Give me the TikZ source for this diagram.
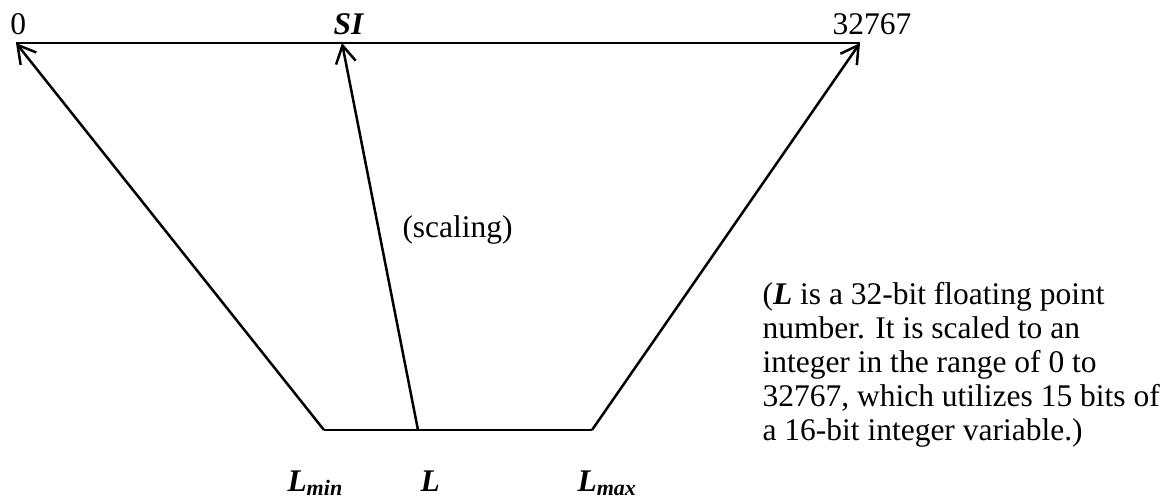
\documentclass[tikz,border=0pt]{standalone}
\usepackage{fontspec}
\setmainfont{Liberation Serif}
\usetikzlibrary{arrows.meta}

\tikzset{
    scaleline/.style={line width=1pt, -{Straight Barb[length=7pt,width=8pt]}},
    lbl/.style={inner sep=0pt, anchor=base west}
}

\begin{document}
\begin{tikzpicture}[x=0.4pt, y=-0.4pt, font=\fontsize{12.6}{13.6}\selectfont]
\useasboundingbox (0,0) rectangle (1172,499);

% SI range on top, L range below
\coordinate (sizero) at (16,43);
\coordinate (sival)  at (342,43);
\coordinate (simax)  at (860,43);
\coordinate (lmin)   at (324,430);
\coordinate (lval)   at (418,430);
\coordinate (lmax)   at (592,430);

\draw[line width=1pt] (sizero) -- (simax);
\draw[line width=1pt] (lmin) -- (lmax);

\draw[scaleline] (lmin) -- (sizero);
\draw[scaleline] (lval) -- (sival);
\draw[scaleline] (lmax) -- (simax);

\node[lbl] (zerolbl) at (10,35) {0};
\node[lbl] (silbl) at (333,35) {\textbf{\textit{SI}}};
\node[lbl] (maxlbl) at (832,35) {32767};
\node[lbl] (scalelbl) at (402,237) {(scaling)};

\node[lbl] (lminlbl) at (287,491) {\textbf{\textit{L\textsubscript{min}}}};
\node[lbl] (lvallbl) at (420,491) {\textbf{\textit{L}}};
\node[lbl] (lmaxlbl) at (577,491) {\textbf{\textit{L\textsubscript{max}}}};

\node[inner sep=0pt, anchor=north west, align=left] (note) at (762,282) {(\textbf{\textit{L}} is a 32-bit floating point\\
number.  It is scaled to an\\
integer in the range of 0 to\\
32767, which utilizes 15 bits of\\
a 16-bit integer variable.)};
\end{tikzpicture}
\end{document}
